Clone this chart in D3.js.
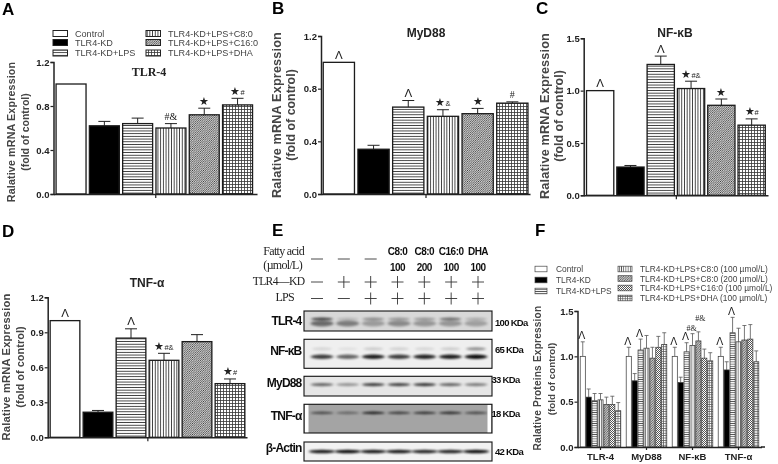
<!DOCTYPE html>
<html>
<head>
<meta charset="utf-8">
<script src="https://cdn.jsdelivr.net/npm/d3@7"></script>
<style>
  html, body { margin: 0; padding: 0; background: #fff; }
  svg { display: block; }
  text { font-family: "Liberation Sans", Arial, sans-serif; fill: #222; }
  .serif { font-family: "Liberation Serif", "Times New Roman", serif; }
  .tick text { font-weight: bold; }
</style>
</head>
<body>
<svg id="chart" width="778" height="464"></svg>
<script>
// mRNA panels: bar value and top of the error bar
const groupNames = ["Control", "TLR4-KD", "TLR4-KD+LPS", "TLR4-KD+LPS+C8:0", "TLR4-KD+LPS+C16:0", "TLR4-KD+LPS+DHA"]

const tlr4Values = [1.0, 0.62, 0.64, 0.60, 0.72, 0.81]
const tlr4Caps = [1.0, 0.66, 0.69, 0.64, 0.78, 0.87]
const tlr4Marks = ["", "", "", "#&", "★", "★#"]

const myd88Values = [1.0, 0.34, 0.66, 0.59, 0.61, 0.69]
const myd88Caps = [1.0, 0.37, 0.71, 0.64, 0.65, 0.70]
const myd88Marks = ["Λ", "", "Λ", "★&", "★", "#"]

const nfkbValues = [1.0, 0.27, 1.25, 1.02, 0.86, 0.67]
const nfkbCaps = [1.0, 0.285, 1.33, 1.09, 0.92, 0.73]
const nfkbMarks = ["Λ", "", "Λ", "★#&", "★", "★#"]

const tnfValues = [1.0, 0.215, 0.85, 0.66, 0.82, 0.46]
const tnfCaps = [1.0, 0.23, 0.93, 0.72, 0.88, 0.50]
const tnfMarks = ["Λ", "", "Λ", "★#&", "", "★#"]

// protein panel F
const proteinNames = ["TLR-4", "MyD88", "NF-κB", "TNF-α"]
const proteinSeries = ["Control", "TLR4-KD", "TLR4-KD+LPS", "TLR4-KD+LPS+C8:0 (100 µmol/L)", "TLR4-KD+LPS+C8:0 (200 µmol/L)", "TLR4-KD+LPS+C16:0 (100 µmol/L)", "TLR4-KD+LPS+DHA (100 µmol/L)"]
const proteinValues = [
  [1.0, 0.55, 0.51, 0.52, 0.47, 0.47, 0.40],
  [1.0, 0.73, 1.07, 1.09, 0.98, 1.10, 1.13],
  [1.0, 0.71, 1.05, 1.12, 1.17, 0.98, 0.95],
  [1.0, 0.85, 1.26, 1.16, 1.18, 1.19, 0.94]
]
const proteinCaps = [
  [1.16, 0.64, 0.59, 0.59, 0.55, 0.56, 0.49],
  [1.10, 0.81, 1.19, 1.23, 1.10, 1.22, 1.26],
  [1.10, 0.77, 1.15, 1.25, 1.27, 1.08, 1.04],
  [1.10, 0.94, 1.43, 1.31, 1.34, 1.35, 1.06]
]
const proteinMarks = [
  ["Λ", "", "", "", "", "", ""],
  ["Λ", "", "Λ", "", "", "", ""],
  ["Λ", "", "Λ", "#&", "#&", "", ""],
  ["Λ", "", "Λ", "", "", "", ""]
]

// western blot panel E: band strength per lane, 0 to 1
const blotLanes = [1, 2, 3, 4, 5, 6, 7]
const fattyDoses = ["", "", "", "100", "200", "100", "100"]
const fattyNames = ["", "", "", "C8:0", "C8:0", "C16:0", "DHA"]
const fattyRow = ["-", "-", "-", "", "", "", ""]
const knockdownRow = ["-", "+", "+", "+", "+", "+", "+"]
const lpsRow = ["-", "-", "+", "+", "+", "+", "+"]
const tlr4BlotUpper = [0.7, 0.15, 0.35, 0.3, 0.3, 0.5, 0.2]
const tlr4BlotLower = [0.5, 0.42, 0.28, 0.36, 0.3, 0.3, 0.26]
const nfkbBlotUpper = [0.1, 0.06, 0.14, 0.12, 0.1, 0.14, 0.4]
const nfkbBlotLower = [0.75, 0.58, 0.88, 0.75, 0.85, 0.88, 0.95]
const myd88BlotBand = [0.55, 0.35, 0.72, 0.7, 0.75, 0.55, 0.45]
const tnfBlotBand = [0.55, 0.38, 0.8, 0.62, 0.68, 0.72, 0.55]
const actinBlotBand = [0.9, 0.95, 0.9, 0.9, 0.85, 0.85, 0.95]

const svg = d3.select("#chart")
const defs = svg.append("defs")
defs.append("filter").attr("id", "soft").append("feGaussianBlur").attr("stdDeviation", 0.38)
const bandBlur = defs.append("filter").attr("id", "bandBlur")
  .attr("x", "-20%").attr("y", "-100%").attr("width", "140%").attr("height", "300%")
bandBlur.append("feGaussianBlur").attr("stdDeviation", "1.4 0.8")

function hatch(id, size, draw, stroke, width) {
  let p = defs.append("pattern").attr("id", id)
    .attr("patternUnits", "userSpaceOnUse").attr("width", size).attr("height", size)
  p.append("rect").attr("width", size).attr("height", size).attr("fill", "#fff")
  p.append("path").attr("d", draw).attr("stroke", stroke).attr("stroke-width", width).attr("fill", "none")
}
hatch("hLines", 2.7, "M0,1.35H2.7", "#333", 0.9)
hatch("vLines", 2.7, "M1.35,0V2.7", "#333", 0.9)
hatch("diag", 2.2, "M-0.55,0.55L0.55,-0.55M0,2.2L2.2,0M1.65,2.75L2.75,1.65", "#333", 0.75)
hatch("grid", 3, "M0,1.5H3M1.5,0V3", "#333", 0.8)
hatch("fHoriz", 2.2, "M0,1.1H2.2", "#555", 0.8)
hatch("fVert", 2.2, "M1.1,0V2.2", "#555", 0.8)
hatch("fDiagA", 2.4, "M-0.6,0.6L0.6,-0.6M0,2.4L2.4,0M1.8,3L3,1.8", "#444", 0.9)
hatch("fDiagB", 2, "M-0.5,-0.5L2.5,2.5M-0.5,1.5L0.5,2.5M1.5,-0.5L2.5,0.5", "#444", 0.9)
hatch("fGrid", 2.4, "M0,1.2H2.4M1.2,0V2.4", "#555", 0.7)

const panelFills = ["#fff", "#000", "url(#hLines)", "url(#vLines)", "url(#diag)", "url(#grid)"]
const proteinFills = ["#fff", "#000", "url(#fHoriz)", "url(#fVert)", "url(#fDiagA)", "url(#fDiagB)", "url(#fGrid)"]

const root = svg.append("g").attr("filter", "url(#soft)")

function label(g, x, y, txt, size, opts) {
  opts = opts || {}
  let t = g.append("text").attr("x", x).attr("y", y).text(txt)
    .attr("font-size", size)
    .attr("text-anchor", opts.anchor || "start")
    .attr("font-weight", opts.weight || "normal")
  if (opts.fill) t.style("fill", opts.fill)
  if (opts.spacing) t.attr("letter-spacing", opts.spacing)
  if (opts.serif) t.attr("class", "serif")
  if (opts.rotate) t.attr("transform", "rotate(-90," + x + "," + y + ")")
  return t
}

// stars are drawn large, the # and & that follow them small
function addMark(g, x, y, mark, small) {
  let t = g.append("text").attr("x", x).attr("y", y).attr("text-anchor", "middle")
  if (mark === "Λ") {
    t.attr("font-size", small ? 10.5 : 11.5).text(mark)
  } else if (mark[0] === "★") {
    t.append("tspan").attr("font-size", 11).text("★")
    if (mark.length > 1) t.append("tspan").attr("font-size", 7.5).text(mark.slice(1))
  } else {
    t.attr("font-size", small ? 8 : 10).attr("class", "serif").text(mark)
  }
}

function yAxisStyle(g) {
  g.selectAll(".domain").attr("stroke", "#222").attr("stroke-width", 1.5)
  g.selectAll(".tick line").attr("stroke", "#222").attr("stroke-width", 1.2)
}

function drawPanel(p) {
  let g = root.append("g")
  let y = d3.scaleLinear().domain([0, p.max]).range([p.bottom, p.top])
  let x = d3.scaleBand().domain(groupNames).range([p.start, p.end]).paddingInner(0.1).paddingOuter(0.05)

  groupNames.forEach((name, i) => {
    let cx = x(name) + x.bandwidth() / 2
    if (p.caps[i] > p.values[i]) {
      g.append("path")
        .attr("d", "M" + cx + "," + y(p.values[i]) + "V" + y(p.caps[i]) + "M" + (cx - 6) + "," + y(p.caps[i]) + "H" + (cx + 6))
        .attr("stroke", "#222").attr("stroke-width", 1).attr("fill", "none")
    }
    g.append("rect")
      .attr("x", x(name)).attr("y", y(p.values[i]))
      .attr("width", x.bandwidth()).attr("height", y(0) - y(p.values[i]))
      .attr("fill", panelFills[i]).attr("stroke", "#1a1a1a").attr("stroke-width", 1.3)
    if (p.marks[i]) addMark(g, cx, y(p.caps[i]) - 3.5, p.marks[i])
  })

  let axisY = g.append("g").attr("transform", "translate(" + p.axisX + ",0)")
    .call(d3.axisLeft(y).tickValues(p.ticks).tickSize(3).tickPadding(1).tickFormat(d3.format(".1f")))
  axisY.selectAll("text").attr("font-size", 9.5).style("font-family", "Liberation Sans")
  yAxisStyle(axisY)

  let xEnd = d3.scalePoint().domain(["mid"]).range([p.axisX, p.axisEnd])
  let axisX = g.append("g").attr("transform", "translate(0," + p.bottom + ")")
    .call(d3.axisBottom(xEnd).tickSize(4).tickSizeOuter(0).tickFormat(""))
  yAxisStyle(axisX)

  label(g, p.labelX, p.labelY, "Ralative mRNA Expression", p.labelSize, { anchor: "middle", rotate: true, weight: "bold", spacing: 0.15, fill: "#444" })
  label(g, p.labelX + 14, p.labelY, "(fold of control)", p.subSize, { anchor: "middle", rotate: true, weight: "bold", fill: "#444" })
  label(g, p.titleX, p.titleY, p.title, 12, { anchor: "middle", weight: "bold", serif: p.titleSerif, fill: "#222" })
}

drawPanel({ title: "TLR-4", titleSerif: true, titleX: 149, titleY: 76, values: tlr4Values, caps: tlr4Caps, marks: tlr4Marks,
  max: 1.2, ticks: [0, 0.4, 0.8, 1.2], top: 62, bottom: 194, axisX: 53.5, axisEnd: 257, start: 54.4, end: 254.2, labelX: 15, labelY: 132, labelSize: 10.7, subSize: 10.5 })
drawPanel({ title: "MyD88", titleX: 426, titleY: 37, values: myd88Values, caps: myd88Caps, marks: myd88Marks,
  max: 1.2, ticks: [0, 0.4, 0.8, 1.2], top: 36, bottom: 194, axisX: 321, axisEnd: 530, start: 321.5, end: 529.7, labelX: 281, labelY: 115, labelSize: 12.7, subSize: 12.4 })
drawPanel({ title: "NF-κB", titleX: 675, titleY: 37, values: nfkbValues, caps: nfkbCaps, marks: nfkbMarks,
  max: 1.5, ticks: [0, 0.5, 1.0, 1.5], top: 38.3, bottom: 195.3, axisX: 583.7, axisEnd: 768, start: 585, end: 766.8, labelX: 549, labelY: 116, labelSize: 12.7, subSize: 12.4 })
drawPanel({ title: "TNF-α", titleX: 147, titleY: 287, values: tnfValues, caps: tnfCaps, marks: tnfMarks,
  max: 1.2, ticks: [0, 0.3, 0.6, 0.9, 1.2], top: 297.3, bottom: 437.3, axisX: 47.7, axisEnd: 247, start: 48.5, end: 246.5, labelX: 10, labelY: 367, labelSize: 11.2, subSize: 11 })

// legend of panel A
let legendA = root.append("g")
groupNames.forEach((name, i) => {
  let col = i < 3 ? 0 : 1
  let row = i % 3
  let sx = col ? 146 : 53
  let sy = [33.5, 42.5, 53][row]
  legendA.append("rect").attr("x", sx).attr("y", sy - 3).attr("width", 14.5).attr("height", 6)
    .attr("fill", panelFills[i]).attr("stroke", "#222").attr("stroke-width", 1)
  label(legendA, sx + 22, sy + 3.3, name, 9.1, { fill: "#444" })
})

// panel letters
const panelLetters = ["A", "B", "C", "D", "E", "F"]
const letterX = [2, 272, 536, 2, 272, 535]
const letterY = [15, 14, 14, 237, 236, 236]
panelLetters.forEach((l, i) => label(root, letterX[i], letterY[i], l, 17, { weight: "bold", fill: "#000" }))

// panel F
function drawProteins() {
  let g = root.append("g")
  let y = d3.scaleLinear().domain([0, 1.5]).range([447, 311])
  let x0 = d3.scaleBand().domain(proteinNames).range([577.5, 761.5]).paddingInner(0.1).paddingOuter(0.05)
  let x1 = d3.scaleBand().domain(proteinSeries).range([0, x0.bandwidth()])
  proteinNames.forEach((name, i) => {
    proteinSeries.forEach((s, j) => {
      let bx = x0(name) + x1(s)
      let cx = bx + x1.bandwidth() / 2
      g.append("path")
        .attr("d", "M" + cx + "," + y(proteinValues[i][j]) + "V" + y(proteinCaps[i][j]) + "M" + (cx - 2) + "," + y(proteinCaps[i][j]) + "H" + (cx + 2))
        .attr("stroke", "#555").attr("stroke-width", 0.8).attr("fill", "none")
      g.append("rect")
        .attr("x", bx + 0.4).attr("y", y(proteinValues[i][j]))
        .attr("width", x1.bandwidth() - 0.8).attr("height", y(0) - y(proteinValues[i][j]))
        .attr("fill", proteinFills[j]).attr("stroke", "#333").attr("stroke-width", 0.7)
      // the second #& sits higher in the reference so the two do not collide
      let lift = proteinMarks[i][j] === "#&" && j === 4 ? 8 : 0
      if (proteinMarks[i][j]) addMark(g, cx + (lift ? 2 : -1), y(proteinCaps[i][j]) - 2.5 - lift, proteinMarks[i][j], true)
    })
  })
  let axisY = g.append("g").attr("transform", "translate(577.5,0)")
    .call(d3.axisLeft(y).tickValues([0, 0.5, 1.0, 1.5]).tickSize(3).tickPadding(1).tickFormat(d3.format(".1f")))
  axisY.selectAll("text").attr("font-size", 9.5)
  yAxisStyle(axisY)
  let axisX = g.append("g").attr("transform", "translate(0,447)")
    .call(d3.axisBottom(x0).tickSize(3).tickSizeOuter(0).tickPadding(3))
  axisX.selectAll("text").attr("font-size", 9.5)
  yAxisStyle(axisX)
  g.append("line").attr("x1", 761).attr("x2", 765).attr("y1", 447).attr("y2", 447).attr("stroke", "#222").attr("stroke-width", 1.5)

  label(g, 541, 378, "Ralative Proteins Expression", 10.1, { anchor: "middle", rotate: true, weight: "bold", spacing: 0.2, fill: "#444" })
  label(g, 555, 379, "(fold of control)", 9.8, { anchor: "middle", rotate: true, weight: "bold", fill: "#444" })

  proteinSeries.forEach((s, i) => {
    let left = i < 3
    let sx = left ? 535 : 618
    let sy = left ? [269, 280, 291][i] : [269, 278.5, 288, 298][i - 3]
    g.append("rect").attr("x", sx).attr("y", sy - 2.8).attr("width", left ? 12 : 14).attr("height", 5.6)
      .attr("fill", proteinFills[i]).attr("stroke", "#444").attr("stroke-width", 0.7)
    label(g, left ? 556 : 640, sy + 3, s, left ? 8.4 : 8.4, { fill: "#444" })
  })
}
drawProteins()

// panel E
function drawBlots() {
  let g = root.append("g")
  let headX = d3.scalePoint().domain(blotLanes).range([317, 478])
  let laneX = d3.scalePoint().domain(blotLanes).range([322, 476])

  label(g, 304, 255, "Fatty acid", 12, { anchor: "end", serif: true, spacing: -0.7 })
  label(g, 302, 269, "(µmol/L)", 12, { anchor: "end", serif: true, spacing: -0.7 })
  label(g, 304.5, 285, "TLR4—KD", 11.6, { anchor: "end", serif: true, spacing: -0.6 })
  label(g, 294, 301, "LPS", 12, { anchor: "end", serif: true, spacing: -0.7 })

  blotLanes.forEach((lane, i) => {
    label(g, headX(lane), 255, fattyNames[i], 10, { anchor: "middle", weight: "bold", spacing: -0.5, fill: "#111" })
    label(g, headX(lane), 271, fattyDoses[i], 10, { anchor: "middle", weight: "bold", spacing: -0.5, fill: "#111" })
  })

  function signRow(row, yPos) {
    row.forEach((sign, i) => {
      if (!sign) return
      let cx = headX(blotLanes[i])
      let d = "M" + (cx - 6) + "," + yPos + "H" + (cx + 6)
      if (sign === "+") d += "M" + cx + "," + (yPos - 6) + "V" + (yPos + 6)
      g.append("path").attr("d", d).attr("stroke", "#333").attr("stroke-width", 0.9).attr("fill", "none")
    })
  }
  signRow(fattyRow, 259)
  signRow(knockdownRow, 282)
  signRow(lpsRow, 298.5)

  const blotNames = ["TLR-4", "NF-κB", "MyD88", "TNF-α", "β-Actin"]
  const blotSizes = ["100 KDa", "65 KDa", "33 KDa", "18 KDa", "42 KDa"]
  const boxTop = [311, 339.3, 376.3, 404.3, 442]
  const boxBottom = [331, 368.3, 396, 433, 461]
  const boxFill = ["#d8d8d8", "#efefef", "#e6e6e6", "#a4a4a4", "#f2f2f2"]
  const nameY = [325, 355, 387, 420, 452]
  const sizeX = [495, 495, 491.5, 491.5, 495]
  const sizeY = [326, 353, 383, 417, 455]
  const blotLayers = [
    [[tlr4BlotUpper, 0.4, 1.5, 11], [tlr4BlotLower, 0.62, 3, 11.5]],
    [[nfkbBlotUpper, 0.33, 1.6, 10], [nfkbBlotLower, 0.6, 2.2, 11.5]],
    [[myd88BlotBand, 0.42, 1.6, 11.5]],
    [[tnfBlotBand, 0.3, 1.3, 11.5]],
    [[actinBlotBand, 0.5, 1.7, 13]]
  ]

  blotNames.forEach((name, b) => {
    let h = boxBottom[b] - boxTop[b]
    let clipId = "blot" + b
    defs.append("clipPath").attr("id", clipId).append("rect")
      .attr("x", 304).attr("y", boxTop[b]).attr("width", 188).attr("height", h)
    let blot = g.append("g").attr("clip-path", "url(#" + clipId + ")")
    blot.append("rect").attr("x", 304).attr("y", boxTop[b]).attr("width", 188).attr("height", h).attr("fill", boxFill[b])
    blotLayers[b].forEach(layer => {
      blotLanes.forEach((lane, i) => {
        blot.append("ellipse")
          .attr("cx", laneX(lane)).attr("cy", boxTop[b] + h * layer[1])
          .attr("rx", layer[3]).attr("ry", layer[2])
          .attr("fill", "#000").attr("opacity", layer[0][i])
          .attr("filter", "url(#bandBlur)")
      })
    })
    if (name === "TNF-α") {
      blot.append("rect").attr("x", 305).attr("y", boxTop[b]).attr("width", 3.5).attr("height", h).attr("fill", "#fff")
      blot.append("rect").attr("x", 487.5).attr("y", boxTop[b]).attr("width", 3.5).attr("height", h).attr("fill", "#fff")
    }
    g.append("rect").attr("x", 304).attr("y", boxTop[b]).attr("width", 188).attr("height", h)
      .attr("fill", "none").attr("stroke", "#111").attr("stroke-width", 1.1)
    label(g, 301.5, nameY[b], name, 12, { anchor: "end", weight: "bold", spacing: -0.8, fill: "#111" })
    label(g, sizeX[b], sizeY[b], blotSizes[b], 9.5, { weight: "bold", spacing: -0.7, fill: "#111" })
  })
}
drawBlots()
</script>
</body>
</html>
